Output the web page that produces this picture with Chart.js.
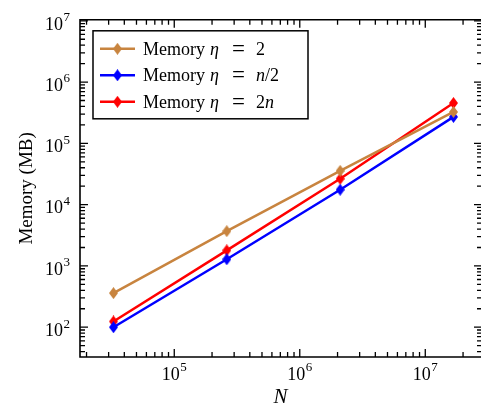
<!DOCTYPE html>
<html><head><meta charset="utf-8">
<script src="https://cdn.jsdelivr.net/npm/chart.js@4.4.0/dist/chart.umd.min.js"></script>
<style>html,body{margin:0;padding:0;background:#fff;}#wrap{width:481px;height:407px;}</style>
</head><body><div id="wrap"><canvas id="c" width="481" height="407"></canvas></div>
<script>
const nValues = [32768, 262144, 2097152, 16777216];
const memEta2 = [360, 3690, 35600, 325000];
const memEtaHalfN = [100, 1285, 17500, 270000];
const memEta2N = [124, 1795, 26400, 455000];
const seriesLabels = ['Memory η = 2', 'Memory η = n/2', 'Memory η = 2n'];
const seriesColors = ['#C8843F', '#0000FF', '#FF0000'];
const xTitle = 'N';
const yTitle = 'Memory (MB)';

const FONT = '"Liberation Serif", "Times New Roman", serif';
function isDecade(v){ const e = Math.log10(v); return Math.abs(e - Math.round(e)) < 1e-9; }
function logTicks(min, max){
  const out = [];
  for (let e = Math.floor(Math.log10(min)); e <= Math.ceil(Math.log10(max)); e++){
    for (let m = 1; m <= 9; m++){
      const v = m * Math.pow(10, e);
      if (v >= min*0.9999 && v <= max*1.0001) out.push({value: v, major: m === 1});
    }
  }
  return out;
}
function thinDiamond(color){
  const c = document.createElement('canvas');
  c.width = 9; c.height = 12;
  const g = c.getContext('2d');
  g.fillStyle = color;
  g.beginPath(); g.moveTo(4.5,0); g.lineTo(9,6); g.lineTo(4.5,12); g.lineTo(0,6); g.closePath(); g.fill();
  return c;
}
const markers = seriesColors.map(thinDiamond);
const seriesData = [memEta2, memEtaHalfN, memEta2N];

function drawPow(ctx, exp, x, y, align){
  ctx.font = '18px ' + FONT;
  const w1 = ctx.measureText('10').width;
  ctx.font = '13px ' + FONT;
  const w2 = ctx.measureText(exp).width;
  const total = w1 + w2 + 0.5;
  let x0 = align === 'right' ? x - total : x - total / 2;
  ctx.textAlign = 'left'; ctx.textBaseline = 'middle'; ctx.fillStyle = '#000';
  ctx.font = '18px ' + FONT;
  ctx.fillText('10', x0, y + 3);
  ctx.font = '13px ' + FONT;
  ctx.fillText(exp, x0 + w1 + 0.5, y - 4);
}

const frameTicks = {
  id: 'frameTicks',
  beforeDatasetsDraw(chart){
    const ctx = chart.ctx, a = chart.chartArea;
    const xs = chart.scales.x, ys = chart.scales.y;
    ctx.save();
    ctx.strokeStyle = '#000';
    ctx.lineWidth = 1.3;
    xs.ticks.forEach(t => {
      const px = xs.getPixelForValue(t.value);
      const L = isDecade(t.value) ? 8 : 5;
      ctx.beginPath();
      ctx.moveTo(px, a.bottom); ctx.lineTo(px, a.bottom - L);
      ctx.moveTo(px, a.top); ctx.lineTo(px, a.top + L);
      ctx.stroke();
      if (isDecade(t.value)) drawPow(ctx, String(Math.round(Math.log10(t.value))), px, a.bottom + 15, 'center');
    });
    ys.ticks.forEach(t => {
      const py = ys.getPixelForValue(t.value);
      const L = isDecade(t.value) ? 8 : 5;
      ctx.beginPath();
      ctx.moveTo(a.left, py); ctx.lineTo(a.left + L, py);
      ctx.moveTo(a.right + 1, py); ctx.lineTo(a.right + 1 - L, py);
      ctx.stroke();
      if (isDecade(t.value)) drawPow(ctx, String(Math.round(Math.log10(t.value))), a.left - 10, py + 1, 'right');
    });
    ctx.lineWidth = 1.6;
    ctx.beginPath();
    ctx.moveTo(a.right + 2, a.top); ctx.lineTo(a.left, a.top); ctx.lineTo(a.left, a.bottom); ctx.lineTo(a.right + 2, a.bottom);
    ctx.stroke();
    ctx.restore();
  }
};

const legendBox = {
  id: 'legendBox',
  afterDraw(chart){
    const ctx = chart.ctx, a = chart.chartArea;
    const bx = a.left + 13, by = a.top + 11, bw = 215, bh = 88;
    ctx.save();
    ctx.fillStyle = '#fff';
    ctx.fillRect(bx, by, bw, bh);
    ctx.strokeStyle = '#000'; ctx.lineWidth = 1.5;
    ctx.strokeRect(bx, by, bw, bh);
    chart.data.datasets.forEach((ds, i) => {
      const cy = by + 18 + i * 26.5;
      ctx.strokeStyle = ds.borderColor; ctx.lineWidth = 2.5;
      ctx.beginPath(); ctx.moveTo(bx + 7, cy); ctx.lineTo(bx + 42, cy); ctx.stroke();
      ctx.drawImage(markers[i], bx + 24.5 - 4.5, cy - 6);
      const label = ds.label;
      const sp = label.indexOf(' ');
      const word = label.slice(0, sp);
      const math = label.slice(sp + 1).split(' = ');
      let x = bx + 50;
      ctx.fillStyle = '#000'; ctx.textBaseline = 'middle'; ctx.textAlign = 'left';
      ctx.font = '18px ' + FONT;
      ctx.fillText(word, x, cy + 1); x += ctx.measureText(word).width + 5;
      ctx.font = 'italic 18px ' + FONT;
      ctx.fillText(math[0], x, cy + 1); x += ctx.measureText(math[0]).width + 13;
      ctx.font = '23px ' + FONT;
      ctx.fillText('=', x, cy + 1); x += ctx.measureText('=').width + 11;
      for (const ch of math[1]){
        ctx.font = (/[a-zA-Z]/.test(ch) ? 'italic ' : '') + '18px ' + FONT;
        ctx.fillText(ch, x, cy + 1); x += ctx.measureText(ch).width;
      }
    });
    ctx.restore();
  }
};

new Chart(document.getElementById('c'), {
  type: 'line',
  data: {
    datasets: seriesData.map((arr, i) => ({
      label: seriesLabels[i],
      data: nValues.map((n, j) => ({x: n, y: arr[j]})),
      borderColor: seriesColors[i],
      backgroundColor: seriesColors[i],
      borderWidth: 2.5,
      pointStyle: markers[i],
      pointRadius: 6,
      tension: 0,
      clip: false
    }))
  },
  options: {
    responsive: false,
    animation: false,
    devicePixelRatio: 1,
    layout: {autoPadding: false, padding: {top: 17, right: 0, left: 0, bottom: 0}},
    plugins: {legend: {display: false}, tooltip: {enabled: false}},
    scales: {
      x: {
        type: 'logarithmic',
        min: Math.pow(10, 4.249),
        max: Math.pow(10, 7.444),
        afterBuildTicks: s => { s.ticks = logTicks(s.min, s.max); },
        afterFit: s => { s.height = 50; },
        grid: {display: false, drawTicks: false},
        border: {display: false},
        ticks: {autoSkip: false, maxRotation: 0, padding: 6, color: '#000',
          font: {family: FONT, size: 18}, callback: () => ''},
        title: {display: true, text: xTitle, color: '#000', padding: {top: 0, bottom: -3},
          font: {family: FONT, size: 21, style: 'italic'}}
      },
      y: {
        type: 'logarithmic',
        min: Math.pow(10, 1.514),
        max: Math.pow(10, 7.016),
        afterBuildTicks: s => { s.ticks = logTicks(s.min, s.max); },
        afterFit: s => { s.width = 80; },
        grid: {display: false, drawTicks: false},
        border: {display: false},
        ticks: {autoSkip: false, padding: 9, color: '#000',
          font: {family: FONT, size: 18}, callback: () => ''},
        title: {display: true, text: yTitle, color: '#000', padding: {top: 16, bottom: 0},
          font: {family: FONT, size: 19}}
      }
    }
  },
  plugins: [frameTicks, legendBox]
});
</script>
</body></html>
